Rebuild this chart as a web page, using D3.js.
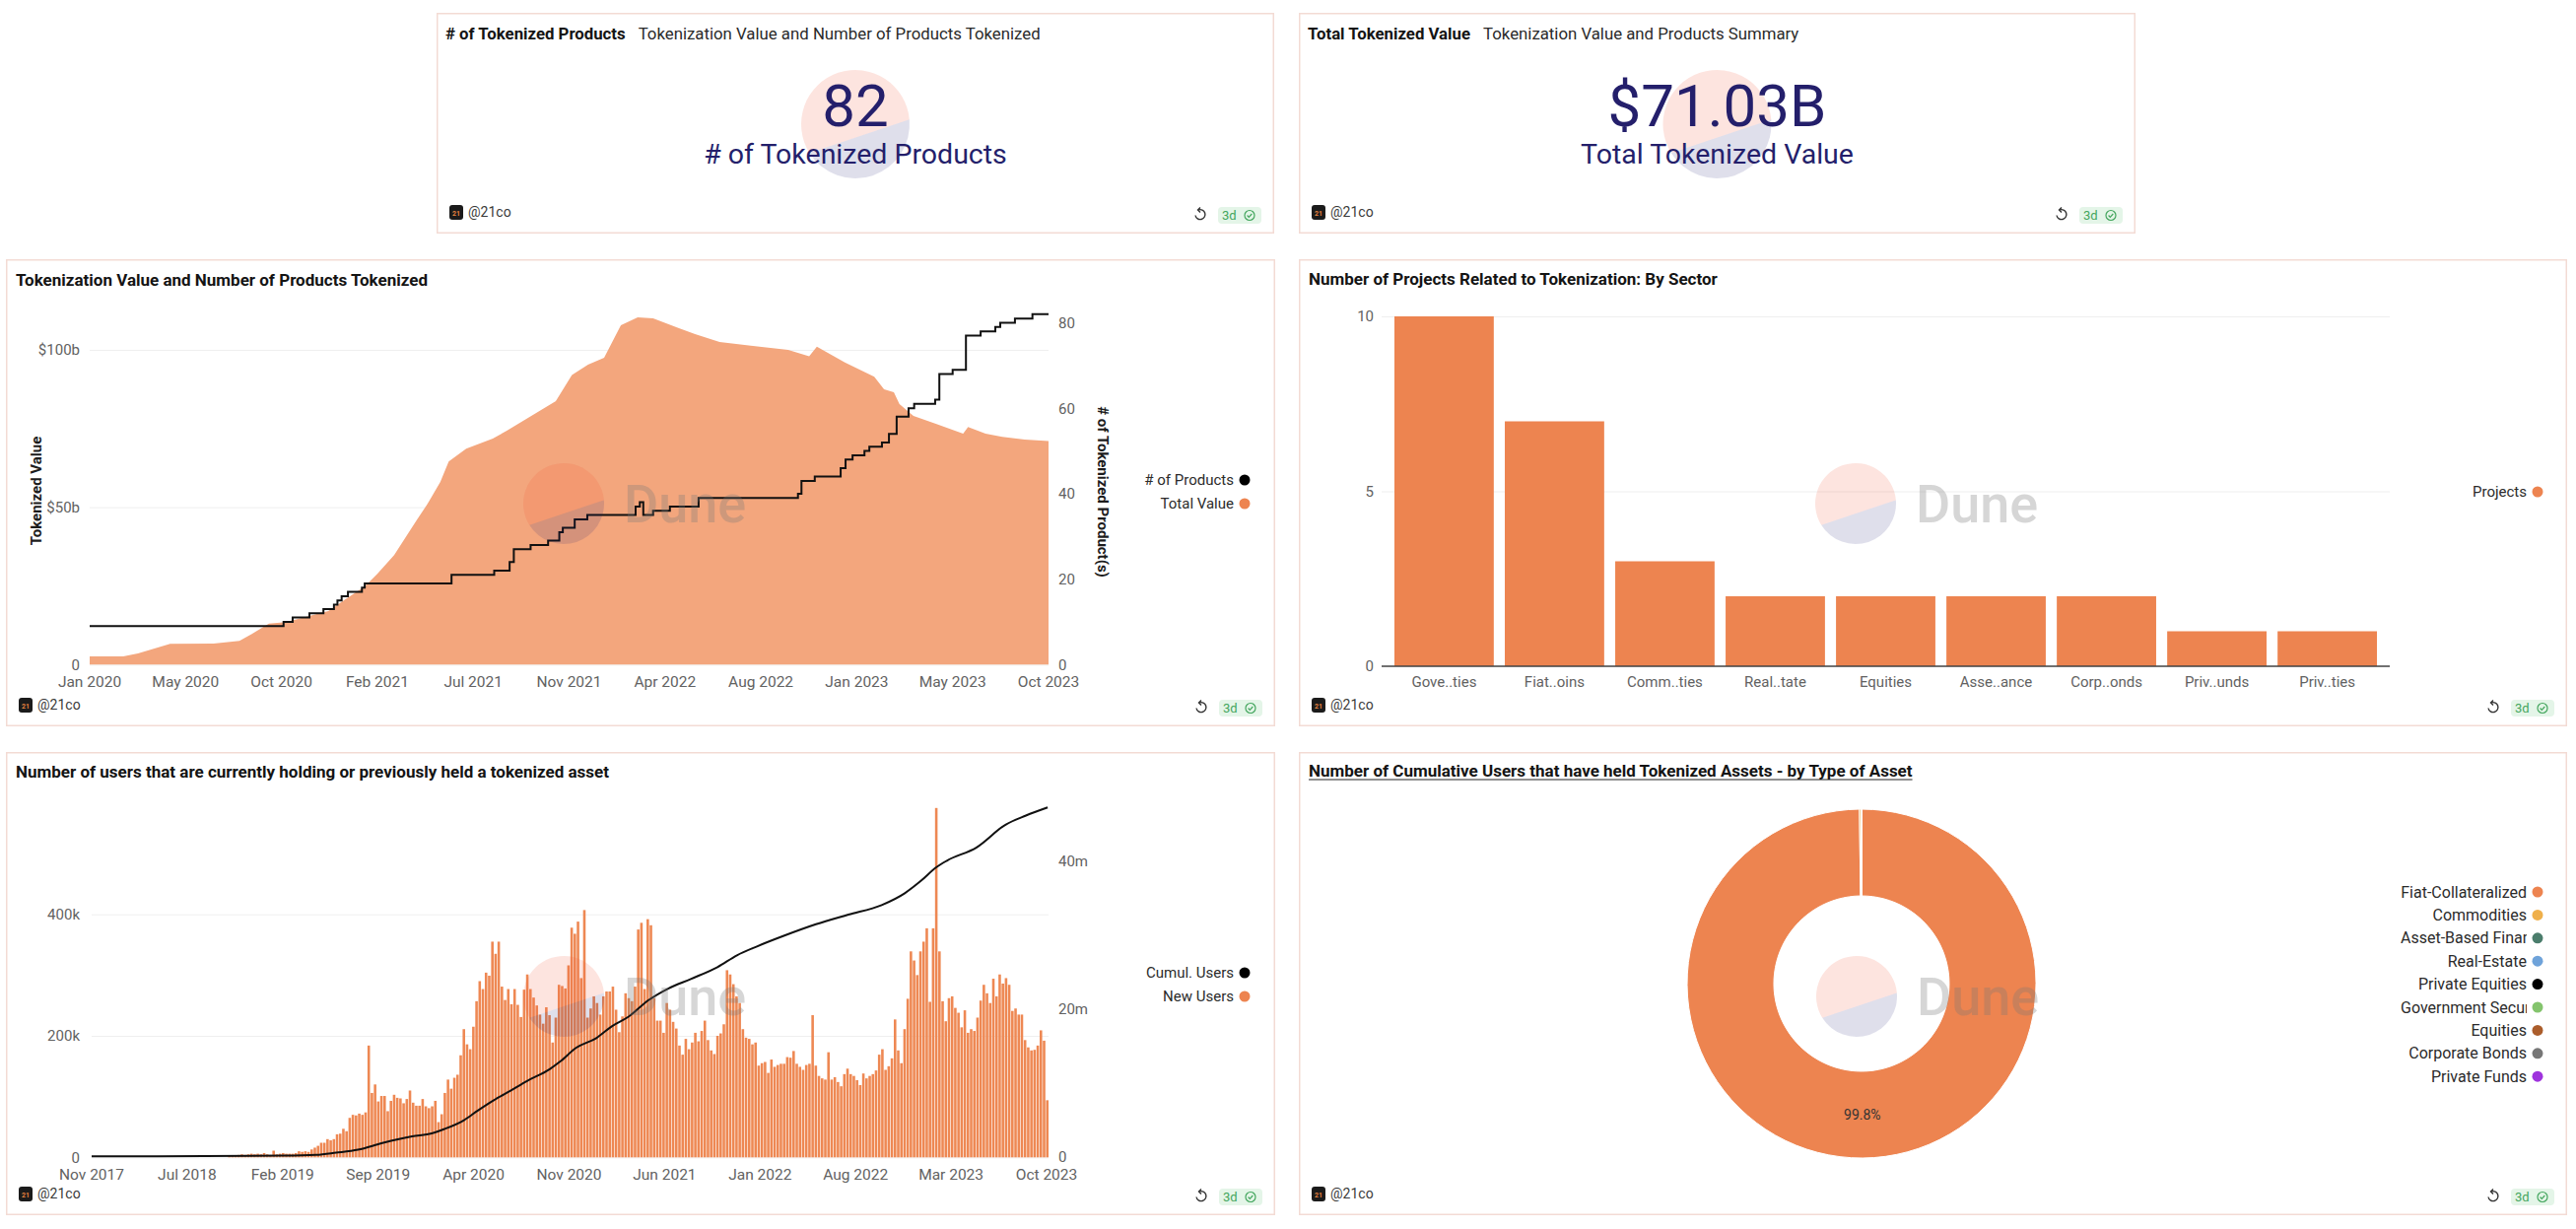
<!DOCTYPE html>
<html>
<head>
<meta charset="utf-8">
<script src="https://cdn.jsdelivr.net/npm/d3@7"></script>
<style>
  html, body { margin: 0; padding: 0; background: #fff; }
  svg { display: block; font-family: Roboto, "Noto Sans", sans-serif; }
</style>
</head>
<body>
<svg id="dash" width="2614" height="1247"></svg>
<script>
// ---- counters
var productCount = 82;
var totalValueBn = 71.03;

// ---- tokenization value ($bn) and number of products
var valueDates = ["2020-01-01","2020-02-18","2020-03-10","2020-04-25","2020-06-26","2020-08-02","2020-08-22","2020-09-13","2020-10-07","2020-12-07",
  "2020-12-31","2021-01-28","2021-02-15","2021-03-11","2021-04-12","2021-04-27","2021-05-16","2021-05-28","2021-06-22","2021-07-30",
  "2021-08-19","2021-09-23","2021-10-28","2021-11-20","2021-12-13","2022-01-05","2022-01-29","2022-02-22","2022-03-16","2022-04-21",
  "2022-05-15","2022-06-19","2022-08-15","2022-09-25","2022-10-25","2022-11-05","2022-12-15","2023-01-26","2023-02-09","2023-02-23",
  "2023-03-03","2023-03-23","2023-04-24","2023-06-02","2023-06-09","2023-07-04","2023-07-28","2023-08-29","2023-10-02"];
var valueBn = [2.6,2.6,3.5,6.6,6.7,7.5,10,13,13.5,17,
  20.7,24.8,28.8,34.8,45.8,50.8,58,64.5,68.6,71.8,
  74.3,79,83.7,92,95.3,97.5,107.8,110.3,110,107,
  105,102.5,101,100,98,101,96,91.5,87.5,86.5,
  82.8,79,76.5,73.4,75.5,73.4,72.4,71.5,71.0];
var productDates = ["2020-01-01","2020-10-04","2020-10-17","2020-11-10","2020-11-30","2020-12-15","2020-12-20","2020-12-26","2021-01-04","2021-01-24",
  "2021-01-28","2021-06-01","2021-08-01","2021-08-23","2021-08-29","2021-09-22","2021-10-17","2021-11-02","2021-11-07","2021-11-24",
  "2021-12-12","2022-02-19","2022-02-25","2022-03-02","2022-03-16","2022-04-09","2022-05-20","2022-10-09","2022-10-14","2022-11-02",
  "2022-12-09","2022-12-16","2022-12-26","2023-01-12","2023-01-19","2023-02-06","2023-02-16","2023-02-27","2023-03-16","2023-03-24",
  "2023-04-23","2023-04-29","2023-05-18","2023-06-06","2023-06-27","2023-07-18","2023-07-25","2023-08-15","2023-09-09","2023-10-02"];
var productCounts = [9,10,11,12,13,14,15,16,17,18,
  19,21,22,24,27,28,29,31,32,34,
  35,37,38,35,36,37,39,40,43,44,
  46,48,49,50,51,52,54,58,60,61,
  62,68,69,77,78,79,80,81,82,82];
var valueTickLabels = ["Jan 2020","May 2020","Oct 2020","Feb 2021","Jul 2021","Nov 2021","Apr 2022","Aug 2022","Jan 2023","May 2023","Oct 2023"];

// ---- projects by sector
var sectors = ["Government Securities","Fiat-Backed Stablecoins","Commodities","Real-Estate","Equities","Asset-Based Finance","Corporate Bonds","Private Funds","Private Equities"];
var sectorProjects = [10,7,3,2,2,2,2,1,1];

// ---- weekly new users (thousands), Nov 2017 - Oct 2023
var newUsersK = [0,0,0,0,0,0,0,0,0,0,0,0,0,0,0,0,0,0,0,0,0,0,0,0,0,0,0,0,0,0,0,0,0,0,0,0,0,0,0,0,0,0,0,
  2,3,3,4,5,4,5,6,5,6,5,7,5,4,11,5,6,7,6,6,6,7,10,9,10,9,13,16,19,24,24,30,28,30,38,39,47,43,65,70,
  69,72,70,74,184,106,120,92,101,101,76,93,103,98,97,89,96,110,90,85,85,
  96,84,81,84,93,58,71,106,128,113,131,136,168,211,186,178,215,257,290,277,304,299,355,335,355,281,259,277,252,277,
  251,231,276,301,277,263,250,235,220,247,234,189,230,284,282,278,316,378,368,388,295,407,230,245,265,254,235,265,273,273,
  281,243,206,232,270,262,257,281,375,386,277,392,382,262,225,225,205,254,243,223,212,184,169,195,178,189,205,191,208,225,
  193,176,170,200,204,219,308,301,285,265,
  254,211,197,195,186,189,151,155,157,139,161,149,152,154,154,165,164,175,154,149,144,152,154,234,151,134,130,128,173,128,
  132,124,117,137,146,137,134,127,119,138,130,134,137,143,169,178,144,150,163,227,176,155,211,261,339,324,300,339,355,377,
  256,377,575,339,257,224,262,265,246,238,214,242,205,211,208,230,258,284,270,254,294,265,301,286,295,284,241,245,235,235,
  193,181,176,177,184,209,192,94];
var cumulDates = ["2017-11-27","2019-02-03","2019-04-17","2019-06-01","2019-07-20","2019-09-13","2019-11-19","2020-01-02","2020-01-31","2020-03-15",
  "2020-04-15","2020-05-21","2020-06-28","2020-08-04","2020-09-24","2020-10-17","2020-11-23","2021-01-07","2021-02-11","2021-03-21",
  "2021-05-04","2021-06-18","2021-08-08","2021-10-07","2021-11-20","2022-01-04","2022-03-04","2022-05-17","2022-07-29","2022-10-12",
  "2022-12-03","2023-01-09","2023-02-12","2023-03-08","2023-05-14","2023-07-19","2023-09-02","2023-10-21"];
var cumulUsersM = [0,0.1,0.2,0.5,0.9,1.8,2.7,3.1,3.7,4.9,
  6.2,7.6,8.9,10.2,11.8,12.8,14.7,16,17.6,18.9,
  21.1,22.7,24,25.6,27.2,28.4,29.8,31.4,32.7,34,
  35.6,37.3,39.1,40,41.8,44.9,46.1,47.2];
var userTickLabels = ["Nov 2017","Jul 2018","Feb 2019","Sep 2019","Apr 2020","Nov 2020","Jun 2021","Jan 2022","Aug 2022","Mar 2023","Oct 2023"];

// ---- cumulative users by type of asset
var assetTypes = ["Fiat-Collateralized","Commodities","Asset-Based Finance","Real-Estate","Private Equities","Government Securities","Equities","Corporate Bonds","Private Funds"];
var assetUsers = [46900000,75000,8000,3000,1500,1200,600,200,100];
var assetColors = ["#ed8450","#efb04b","#4b7d6c","#6fa3da","#000000","#84c46d","#ab5d2b","#777777","#9f33dd"];

// ---------------------------------------------------------------
var svg = d3.select("#dash");
var parse = d3.timeParse("%Y-%m-%d");
var orange = "#ed8450";
var tickGray = "#626262";

function card(x, y, w, h) {
  svg.append("rect")
    .attr("x", x + 0.75).attr("y", y + 0.75)
    .attr("width", w - 1.5).attr("height", h - 1.5)
    .attr("fill", "#fff").attr("stroke", "#f3dbd4").attr("stroke-width", 1.5);
  footer(x, y, w, h);
}

function footer(x, y, w, h) {
  var b = y + h;
  svg.append("rect").attr("x", x + 13).attr("y", b - 29).attr("width", 14).attr("height", 15).attr("rx", 3).attr("fill", "#1b1b1b");
  svg.append("text").attr("x", x + 20).attr("y", b - 18.5).attr("text-anchor", "middle")
    .attr("font-size", 7).attr("font-weight", 700).attr("fill", "#e8823f").text("21");
  svg.append("text").attr("x", x + 32).attr("y", b - 17).attr("font-size", 14).attr("fill", "#3a3a3a").text("@21co");
  // refresh
  var cx = x + w - 75, cy = b - 19;
  svg.append("path")
    .attr("d", `M${cx - 2},${cy - 5} A5 5 0 1 1 ${cx - 5},${cy + 0.5}`)
    .attr("fill", "none").attr("stroke", "#333").attr("stroke-width", 1.4);
  svg.append("path")
    .attr("d", `M${cx},${cy - 7.5} L${cx - 2.5},${cy - 5} L${cx},${cy - 2.5}`)
    .attr("fill", "none").attr("stroke", "#333").attr("stroke-width", 1.4);
  // badge
  var bx = x + w - 57;
  svg.append("rect").attr("x", bx).attr("y", b - 27).attr("width", 44).attr("height", 17).attr("rx", 4).attr("fill", "#e4f5e8");
  svg.append("text").attr("x", bx + 4).attr("y", b - 14).attr("font-size", 13).attr("fill", "#44a65e").text("3d");
  svg.append("circle").attr("cx", bx + 32).attr("cy", b - 18.5).attr("r", 5).attr("fill", "none").attr("stroke", "#44a65e").attr("stroke-width", 1.2);
  svg.append("path").attr("d", `M${bx + 29.6},${b - 18.5} l1.7,1.8 l3,-3.3`).attr("fill", "none").attr("stroke", "#44a65e").attr("stroke-width", 1.2);
}

function watermark(cx, cy, r, withText) {
  var a0 = -5 * Math.PI / 180, a1 = 148 * Math.PI / 180;
  var p0 = [cx + r * Math.cos(a0), cy + r * Math.sin(a0)];
  var p1 = [cx + r * Math.cos(a1), cy + r * Math.sin(a1)];
  var g = svg.append("g").attr("pointer-events", "none");
  g.append("path").attr("d", `M${p0} A${r},${r} 0 1 0 ${p1} Z`).attr("fill", "#f05a35").attr("fill-opacity", 0.16);
  g.append("path").attr("d", `M${p0} A${r},${r} 0 0 1 ${p1} Z`).attr("fill", "#1f1a6e").attr("fill-opacity", 0.14);
  if (withText) {
    g.append("text").attr("x", cx + 61).attr("y", cy + 19)
      .attr("font-size", 54).attr("font-weight", 500)
      .attr("fill", "#777").attr("fill-opacity", 0.3).text("Dune");
  }
}

function title(x, y, t) {
  return svg.append("text").attr("x", x).attr("y", y)
    .attr("font-size", 17).attr("font-weight", 700).attr("fill", "#141414").text(t);
}

function legend(items, xEnd, y0, step, size) {
  items.forEach(function (it, i) {
    var y = y0 + i * step;
    svg.append("text").attr("x", xEnd).attr("y", y).attr("dy", "0.35em")
      .attr("text-anchor", "end").attr("font-size", size || 15).attr("fill", "#2b2b2b").text(it[0]);
    svg.append("circle").attr("cx", xEnd + 11).attr("cy", y).attr("r", 5.5).attr("fill", it[1]);
  });
}

function styleAxis(g) {
  g.select(".domain").remove();
  g.selectAll("text").attr("font-size", 15).attr("fill", tickGray).attr("font-family", "Roboto, 'Noto Sans', sans-serif");
}

function xLabels(labels, x0, x1, y) {
  var xp = d3.scalePoint().domain(labels).range([x0, x1]);
  svg.append("g").selectAll("text").data(labels).join("text")
    .attr("x", d => xp(d)).attr("y", y).attr("text-anchor", "middle")
    .attr("font-size", 15.5).attr("fill", tickGray).text(d => d);
}

// ================= counter cards
function counter(x, y, w, h, head, sub, big, label) {
  card(x, y, w, h);
  var t = svg.append("text").attr("x", x + 9).attr("y", y + 27).attr("font-size", 16.8).attr("fill", "#141414");
  t.append("tspan").attr("font-weight", 700).text(head);
  t.append("tspan").attr("dx", 13).attr("fill", "#2a2a2a").text(sub);
  var cx = x + w / 2;
  watermark(cx, y + 113, 55, false);
  svg.append("text").attr("x", cx).attr("y", y + 115).attr("text-anchor", "middle")
    .attr("font-size", 60).attr("fill", "#241f6b").text(big);
  svg.append("text").attr("x", cx).attr("y", y + 153).attr("text-anchor", "middle")
    .attr("font-size", 28.5).attr("fill", "#241f6b").text(label);
}
counter(443, 13, 850, 224, "# of Tokenized Products", "Tokenization Value and Number of Products Tokenized",
  d3.format("d")(productCount), "# of Tokenized Products");
counter(1318, 13, 849, 224, "Total Tokenized Value", "Tokenization Value and Products Summary",
  "$" + d3.format(".2f")(totalValueBn) + "B", "Total Tokenized Value");

// ================= chart C: value + products
card(6, 263, 1288, 474);
title(16, 290, "Tokenization Value and Number of Products Tokenized");
var xC = d3.scaleTime().domain([parse("2020-01-01"), parse("2023-10-02")]).range([91, 1064]);
var yCL = d3.scaleLinear().domain([0, 100]).range([674.3, 355]);
var yCR = d3.scaleLinear().domain([0, 80]).range([674.3, 327.5]);

svg.append("g").attr("transform", "translate(91,0)")
  .call(d3.axisLeft(yCL).tickValues([0, 50, 100]).tickSize(-973).tickPadding(10)
    .tickFormat(v => v === 0 ? "0" : "$" + v + "b"))
  .call(styleAxis)
  .call(g => g.selectAll("line").attr("stroke", "#efefef"));
svg.append("g").attr("transform", "translate(1064,0)")
  .call(d3.axisRight(yCR).tickValues([0, 20, 40, 60, 80]).tickSize(0).tickPadding(10))
  .call(styleAxis);

var valueData = valueDates.map((d, i) => ({ date: parse(d), v: valueBn[i] }));
svg.append("path").datum(valueData)
  .attr("fill", "#f3a67d")
  .attr("d", d3.area().x(d => xC(d.date)).y0(yCL(0)).y1(d => yCL(d.v)));

var productData = productDates.map((d, i) => ({ date: parse(d), v: productCounts[i] }));
svg.append("path").datum(productData)
  .attr("fill", "none").attr("stroke", "#111").attr("stroke-width", 2)
  .attr("d", d3.line().curve(d3.curveStepAfter).x(d => xC(d.date)).y(d => yCR(d.v)));

xLabels(valueTickLabels, 91, 1064, 697);
svg.append("text").attr("transform", "translate(42,498) rotate(-90)").attr("text-anchor", "middle")
  .attr("font-size", 15).attr("font-weight", 700).attr("fill", "#1c1c1c").text("Tokenized Value");
svg.append("text").attr("transform", "translate(1114,499) rotate(90)").attr("text-anchor", "middle")
  .attr("font-size", 15).attr("font-weight", 700).attr("fill", "#1c1c1c").text("# of Tokenized Product(s)");
legend([["# of Products", "#000"], ["Total Value", orange]], 1252, 487, 24);
watermark(572, 511, 41, true);

// ================= chart D: projects by sector
card(1318, 263, 1287, 474);
title(1328, 289, "Number of Projects Related to Tokenization: By Sector");
var xD = d3.scaleBand().domain(sectors).range([1402, 2425]).paddingInner(0.1).paddingOuter(0.116);
var yD = d3.scaleLinear().domain([0, 10]).range([676, 321]);
svg.append("g").attr("transform", "translate(1402,0)")
  .call(d3.axisLeft(yD).tickValues([0, 5, 10]).tickSize(-1023).tickPadding(8))
  .call(styleAxis)
  .call(g => g.selectAll("line").attr("stroke", "#efefef"));
svg.append("g").selectAll("rect").data(sectors).join("rect")
  .attr("x", d => xD(d)).attr("width", xD.bandwidth())
  .attr("y", (d, i) => yD(sectorProjects[i])).attr("height", (d, i) => yD(0) - yD(sectorProjects[i]))
  .attr("fill", orange);
svg.append("line").attr("x1", 1402).attr("x2", 2425).attr("y1", 676).attr("y2", 676)
  .attr("stroke", "#454545").attr("stroke-width", 1.6);
var shortName = s => s.length > 8 ? s.slice(0, 4) + ".." + s.slice(-4) : s;
svg.append("g").selectAll("text").data(sectors).join("text")
  .attr("x", d => xD(d) + xD.bandwidth() / 2).attr("y", 697).attr("text-anchor", "middle")
  .attr("font-size", 15).attr("fill", tickGray).text(shortName);
legend([["Projects", orange]], 2564, 499, 24);
watermark(1883, 511, 41, true);

// ================= chart E: users
card(6, 763, 1288, 470);
title(16, 789, "Number of users that are currently holding or previously held a tokenized asset");
var xE = d3.scaleBand().domain(d3.range(newUsersK.length)).range([93, 1064]).paddingInner(0.2);
var xEt = d3.scaleTime().domain([parse("2017-11-27"), parse("2023-10-23")]).range([93, 1064]);
var yEL = d3.scaleLinear().domain([0, 400]).range([1174.3, 927.7]);
var yER = d3.scaleLinear().domain([0, 40]).range([1173.3, 873.3]);
svg.append("g").attr("transform", "translate(93,0)")
  .call(d3.axisLeft(yEL).tickValues([0, 200, 400]).tickSize(-971).tickPadding(12)
    .tickFormat(v => v === 0 ? "0" : v + "k"))
  .call(styleAxis)
  .call(g => g.selectAll("line").attr("stroke", "#efefef"));
svg.append("g").attr("transform", "translate(1064,0)")
  .call(d3.axisRight(yER).tickValues([0, 20, 40]).tickSize(0).tickPadding(10)
    .tickFormat(v => v === 0 ? "0" : v + "m"))
  .call(styleAxis);
svg.append("g").selectAll("rect").data(newUsersK).join("rect")
  .attr("x", (d, i) => xE(i)).attr("width", xE.bandwidth())
  .attr("y", d => yEL(d)).attr("height", d => yEL(0) - yEL(d))
  .attr("fill", "#ee8853");
var cumulData = cumulDates.map((d, i) => ({ date: parse(d), v: cumulUsersM[i] }));
svg.append("path").datum(cumulData)
  .attr("fill", "none").attr("stroke", "#111").attr("stroke-width", 2)
  .attr("d", d3.line().curve(d3.curveMonotoneX).x(d => xEt(d.date)).y(d => yER(d.v)));
xLabels(userTickLabels, 93, 1062, 1197);
legend([["Cumul. Users", "#000"], ["New Users", orange]], 1252, 987, 24);
watermark(572, 1011, 41, true);

// ================= chart F: donut
card(1318, 763, 1287, 470);
var tF = title(1328, 788, "Number of Cumulative Users that have held Tokenized Assets - by Type of Asset");
var tw = tF.node().getComputedTextLength();
svg.append("line").attr("x1", 1328).attr("x2", 1328 + tw).attr("y1", 791).attr("y2", 791)
  .attr("stroke", "#222").attr("stroke-width", 1);
var color = d3.scaleOrdinal().domain(assetTypes).range(assetColors);
var pie = d3.pie().sort(null).value(d => d)(assetUsers);
var arcF = d3.arc().innerRadius(89).outerRadius(177);
var totalUsers = d3.sum(assetUsers);
var gF = svg.append("g").attr("transform", "translate(1889,998)");
gF.selectAll("path").data(pie).join("path")
  .attr("d", arcF).attr("fill", (d, i) => color(assetTypes[i]))
  .attr("stroke", "#fff").attr("stroke-width", 1);
gF.selectAll("text").data(pie.filter(d => d.value / totalUsers > 0.05)).join("text")
  .attr("transform", d => `translate(${arcF.centroid(d)})`).attr("dy", "0.35em")
  .attr("text-anchor", "middle").attr("font-size", 14).attr("fill", "#333")
  .text(d => d3.format(".1%")(d.value / totalUsers));
svg.append("clipPath").attr("id", "legclip")
  .append("rect").attr("x", 2436).attr("y", 880).attr("width", 128).attr("height", 240);
assetTypes.forEach(function (name, i) {
  var y = 905 + i * 23.4;
  var t = svg.append("text").attr("x", 2564).attr("y", y).attr("dy", "0.35em")
    .attr("text-anchor", "end").attr("font-size", 16).attr("fill", "#2b2b2b").text(name);
  if (t.node().getComputedTextLength() > 128) {
    t.attr("x", 2436).attr("text-anchor", "start").attr("clip-path", "url(#legclip)");
  }
  svg.append("circle").attr("cx", 2575).attr("cy", y).attr("r", 5.5).attr("fill", color(name));
});
watermark(1884, 1011, 41, true);
</script>
</body>
</html>
